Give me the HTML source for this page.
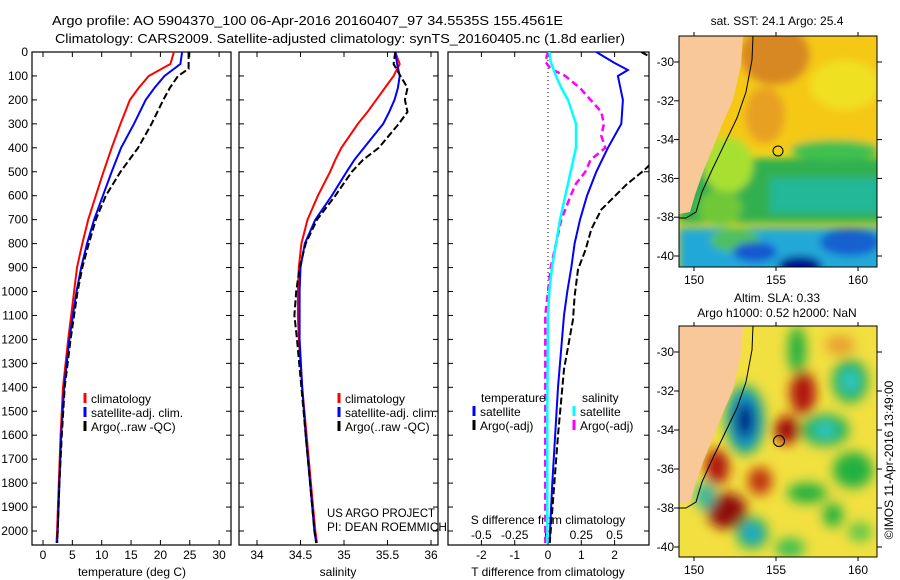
<!DOCTYPE html>
<html><head><meta charset="utf-8"><style>
html,body{margin:0;padding:0;background:#fff}
svg{display:block;font-family:"Liberation Sans",sans-serif}
</style></head><body>
<svg id="c" width="900" height="580" viewBox="0 0 900 580" xmlns="http://www.w3.org/2000/svg">
<defs>
<filter id="bl" x="-20%" y="-20%" width="140%" height="140%"><feGaussianBlur stdDeviation="6"/></filter>
<filter id="bl2" x="-20%" y="-20%" width="140%" height="140%"><feGaussianBlur stdDeviation="4"/></filter>
<clipPath id="cp1"><rect x="32" y="52" width="199" height="493"/></clipPath>
<clipPath id="cp2"><rect x="239" y="52" width="199" height="493"/></clipPath>
<clipPath id="cp3"><rect x="448" y="52" width="201" height="493"/></clipPath>
<clipPath id="cm1"><rect x="679" y="36" width="198" height="231"/></clipPath>
<clipPath id="cm2"><rect x="679" y="326" width="198" height="231"/></clipPath>
</defs>
<text x="52" y="25" font-size="13" textLength="511" lengthAdjust="spacingAndGlyphs">Argo profile: AO 5904370_100 06-Apr-2016 20160407_97 34.5535S 155.4561E</text>
<text x="55" y="43" font-size="13" textLength="570" lengthAdjust="spacingAndGlyphs">Climatology: CARS2009. Satellite-adjusted climatology: synTS_20160405.nc (1.8d earlier)</text>

<g id="g1"></g>
<g id="g2"></g>
<g id="g3"></g>

<text x="327" y="517" font-size="12" textLength="108" lengthAdjust="spacingAndGlyphs">US ARGO PROJECT</text>
<text x="327" y="531" font-size="12" textLength="120" lengthAdjust="spacingAndGlyphs">PI: DEAN ROEMMICH</text>

<!-- SST map -->
<g>
<text x="777" y="25" font-size="12" text-anchor="middle">sat. SST: 24.1  Argo: 25.4</text>
<g clip-path="url(#cm1)">
<rect x="679" y="36" width="198" height="231" fill="#f0d818"/>
<g filter="url(#bl2)">
<rect x="679" y="30" width="205" height="120" fill="#f5c818"/>
<ellipse cx="775" cy="55" rx="35" ry="30" fill="#d88820"/>
<ellipse cx="765" cy="115" rx="20" ry="28" fill="#e8a020"/>
<ellipse cx="845" cy="85" rx="35" ry="25" fill="#f0e020"/>
<rect x="679" y="158" width="205" height="65" fill="#30b050"/>
<ellipse cx="728" cy="165" rx="25" ry="28" fill="#a8e030"/>
<ellipse cx="835" cy="150" rx="45" ry="10" fill="#40c050"/>
<rect x="770" y="178" width="110" height="35" fill="#20b898"/>
<rect x="679" y="228" width="205" height="45" fill="#20a8d8"/>
<ellipse cx="720" cy="208" rx="22" ry="18" fill="#70c838"/>
<ellipse cx="735" cy="240" rx="25" ry="12" fill="#50c060"/>
<ellipse cx="850" cy="242" rx="30" ry="14" fill="#1860d0"/>
<ellipse cx="755" cy="252" rx="22" ry="10" fill="#1858d0"/>
<ellipse cx="800" cy="266" rx="22" ry="10" fill="#001890"/>
</g>
<polygon points="679,36 743,36 741,65 733,100 722,125 712,150 703,172 695,195 690,212 679,214" fill="#f8c898"/>
<polyline points="753,36 752,60 746,92 737,118 724,145 712,170 702,192 696,212 686,218 679,218" fill="none" stroke="#000" stroke-width="1"/>
</g>
<rect x="679" y="36" width="198" height="231" fill="none" stroke="#000" stroke-width="1"/>
<circle cx="778" cy="151" r="5" fill="none" stroke="#000" stroke-width="1"/>
</g>

<!-- SLA map -->
<g>
<text x="777" y="302" font-size="12" text-anchor="middle">Altim. SLA: 0.33</text>
<text x="777" y="317" font-size="12" text-anchor="middle">Argo h1000: 0.52 h2000: NaN</text>
<g clip-path="url(#cm2)">
<rect x="679" y="326" width="198" height="231" fill="#f2e040"/>
<g filter="url(#bl)">
<ellipse cx="797" cy="350" rx="9" ry="24" fill="#20b040"/>
<ellipse cx="745" cy="420" rx="20" ry="35" fill="#20b060"/>
<ellipse cx="745" cy="420" rx="15" ry="28" fill="#1890d0"/>
<ellipse cx="745" cy="420" rx="9" ry="18" fill="#001a80"/>
<ellipse cx="803" cy="393" rx="13" ry="22" fill="#b01810"/>
<ellipse cx="787" cy="430" rx="13" ry="14" fill="#a01010"/>
<ellipse cx="825" cy="430" rx="24" ry="16" fill="#20b050"/>
<ellipse cx="825" cy="430" rx="12" ry="8" fill="#30c8c8"/>
<ellipse cx="850" cy="381" rx="18" ry="22" fill="#20b050"/>
<ellipse cx="850" cy="381" rx="9" ry="12" fill="#30c8c8"/>
<ellipse cx="717" cy="467" rx="12" ry="18" fill="#b01810"/>
<ellipse cx="727" cy="511" rx="20" ry="18" fill="#900808"/>
<ellipse cx="760" cy="481" rx="12" ry="14" fill="#c03010"/>
<ellipse cx="752" cy="533" rx="16" ry="16" fill="#20b050"/>
<ellipse cx="752" cy="533" rx="9" ry="9" fill="#20a8d8"/>
<ellipse cx="705" cy="496" rx="10" ry="14" fill="#30b8a0"/>
<ellipse cx="807" cy="493" rx="20" ry="10" fill="#20b040"/>
<ellipse cx="853" cy="470" rx="20" ry="18" fill="#20b040"/>
<ellipse cx="833" cy="515" rx="10" ry="12" fill="#20b040"/>
<ellipse cx="790" cy="548" rx="15" ry="10" fill="#40c050"/>
<ellipse cx="860" cy="532" rx="12" ry="10" fill="#60c848"/>
<ellipse cx="840" cy="345" rx="15" ry="10" fill="#e8a030"/>
</g>
<polygon points="679,326 743,326 741,355 733,390 722,415 712,440 703,462 695,485 690,502 679,504" fill="#f8c898"/>
<polyline points="753,326 752,350 746,382 737,408 724,435 712,460 702,482 696,502 686,508 679,508" fill="none" stroke="#000" stroke-width="1"/>
</g>
<rect x="679" y="326" width="198" height="231" fill="none" stroke="#000" stroke-width="1"/>
<circle cx="779" cy="441" r="5.5" fill="none" stroke="#000" stroke-width="1"/>
</g>
<g id="maxes"></g>
<text x="893" y="460" font-size="12" text-anchor="middle" transform="rotate(-90 893 460)">©IMOS 11-Apr-2016 13:49:00</text>
</svg>
<script>
// ---- data ----
const depthT = [0,50,100,150,200,300,400,500,600,700,800,900,1000,1100,1200,1400,1600,1800,2000,2050];
const tempClim = [22.3,21.7,18,16.3,14.8,13.2,11.7,10.3,9,7.7,6.7,5.8,5.3,4.8,4.3,3.4,3.0,2.7,2.4,2.3];
const tempSat  = [23.7,23.4,20.7,19,17.5,15.5,13.3,11.7,10.2,8.7,7.5,6.5,5.7,5.1,4.5,3.6,3.1,2.8,2.5,2.4];
const depthA = [0,70,100,150,200,300,400,500,600,700,800,900,1000,1100,1200,1400,1600,1800,2000,2050];
const tempArgo = [24.8,24.8,23,21.6,20.5,18.5,16.2,13.2,10.7,9,7.8,6.7,5.9,5.3,4.7,3.7,3.2,2.8,2.5,2.4];
const depthS = [0,50,100,150,200,250,300,400,450,500,600,700,800,900,1000,1100,1200,1400,1600,1800,2000,2050];
const salClim = [35.59,35.64,35.57,35.47,35.37,35.27,35.16,34.97,34.9,34.84,34.70,34.58,34.51,34.48,34.47,34.47,34.48,34.52,34.57,34.62,34.67,34.69];
const salSat  = [35.59,35.61,35.64,35.62,35.58,35.52,35.45,35.23,35.12,35.03,34.86,34.67,34.55,34.50,34.49,34.49,34.49,34.52,34.56,34.61,34.66,34.68];
const salArgo = [35.59,35.57,35.65,35.73,35.7,35.73,35.63,35.4,35.22,35.09,34.9,34.69,34.56,34.49,34.45,34.43,34.46,34.51,34.56,34.61,34.66,34.68];
const depthD = [0,46,75,100,200,300,400,500,600,700,800,900,1000,1100,1400,1800,2000,2050];
const dTsat = [1.45,2.0,2.4,2.1,2.25,2.2,1.8,1.45,1.17,0.96,0.8,0.7,0.58,0.48,0.3,0.13,0.06,0.05];
const depthDA = [0,30,50,400,450,492,554,575,658,740,825,908,1020,1117,1325,1600,2000,2050];
const dTargo = [2.8,3.2,4.0,3.5,3.2,2.9,2.35,2.2,1.6,1.3,1.13,0.9,0.8,0.75,0.48,0.3,0.08,0.05];
const depthDS = [0,40,70,100,150,200,250,300,350,400,450,500,550,600,700,800,900,1000,1100,1500,2000,2050];
const dSsat = [0.01,0.02,0.04,0.06,0.1,0.15,0.18,0.21,0.21,0.21,0.19,0.17,0.15,0.13,0.09,0.06,0.03,0.01,0,-0.005,-0.005,-0.005];
const dSargo = [0,-0.02,0.02,0.13,0.24,0.32,0.4,0.42,0.4,0.43,0.32,0.28,0.21,0.17,0.1,0.06,0.02,0,-0.02,-0.02,-0.02,-0.02];
const depthTicks = [0,100,200,300,400,500,600,700,800,900,1000,1100,1200,1300,1400,1500,1600,1700,1800,1900,2000];
const tempTicks = [0,5,10,15,20,25,30];
const salTicks = [34,34.5,35,35.5,36];
const dTTicks = [-2,-1,0,1,2];
const dSTicks = [-0.5,-0.25,0,0.25,0.5];
const dSTickLabels = ["-0.5","-0.25","0","0.25","0.5"];
const latTicks = [-30,-32,-34,-36,-38,-40];
const lonTicks = [150,155,160];

// ---- axes ----
const yD = d => 52 + d*0.2395;
const xT = t => 43 + t*5.87;
const xS = s => 257 + (s-34)*87;
const xDT = t => 548 + t*33.3;
const xDS = s => 548 + s*133.2;
const NS = "http://www.w3.org/2000/svg";
function mk(tag, attrs, parent){const e=document.createElementNS(NS,tag);for(const k in attrs)e.setAttribute(k,attrs[k]);parent.appendChild(e);return e;}
function txt(parent,x,y,s,anchor,size){const e=mk('text',{x:x,y:y,'font-size':size||12,'text-anchor':anchor||'start'},parent);e.textContent=s;return e;}

function panel(g,x0,x1){
  const r=mk('rect',{x:x0,y:52,width:x1-x0,height:493,fill:'none',stroke:'#000','stroke-width':1.2},g);
  
  
  depthTicks.forEach(d=>{
    mk('line',{x1:x0,x2:x0+5,y1:yD(d),y2:yD(d),stroke:'#000'},g);
    mk('line',{x1:x1-5,x2:x1,y1:yD(d),y2:yD(d),stroke:'#000'},g);
  });
}
function xticks(g,vals,fx,labels,ly){
  vals.forEach((v,i)=>{
    const x=fx(v);
    mk('line',{x1:x,x2:x,y1:52,y2:57,stroke:'#000'},g);
    mk('line',{x1:x,x2:x,y1:540,y2:545,stroke:'#000'},g);
    const t=txt(g,x,ly,labels[i],'middle');
    
    
  });
}
function line(g,ds,vs,fx,color,w,dash,clip,name){
  const pts=ds.map((d,i)=>fx(vs[i]).toFixed(1)+','+yD(d).toFixed(1)).join(' ');
  const a={points:pts,fill:'none',stroke:color,'stroke-width':w,'clip-path':'url(#'+clip+')'};
  if(dash)a['stroke-dasharray']=dash;
  const p=mk('polyline',a,g);
  
  
}
function legItem(g,x,y,color,label){
  mk('line',{x1:x,x2:x,y1:y-10,y2:y,stroke:color,'stroke-width':3},g);
  const t=txt(g,x+6,y,label,'start');
  
  
}

// panel 1
const g1=document.getElementById('g1');
panel(g1,32,231);
depthTicks.forEach(d=>{const t=txt(g1,28,yD(d)+4,String(d),'end');
 
 });
xticks(g1,tempTicks,xT,tempTicks.map(String),559);
let t1=txt(g1,132,576,'temperature (deg C)','middle');


line(g1,depthT,tempClim,xT,'#f00',2,null,'cp1','temp-climatology-line');
line(g1,depthT,tempSat,xT,'#00f',2,null,'cp1','temp-satellite-line');
line(g1,depthA,tempArgo,xT,'#000',2,'7,3','cp1','temp-argo-line');
legItem(g1,85,403,'#f00','climatology');
legItem(g1,85,417,'#00f','satellite-adj. clim.');
legItem(g1,85,431,'#000','Argo(..raw -QC)');

// panel 2
const g2=document.getElementById('g2');
panel(g2,239,438);
xticks(g2,salTicks,xS,salTicks.map(String),559);
let t2=txt(g2,338,576,'salinity','middle');


line(g2,depthS,salClim,xS,'#f00',2,null,'cp2','sal-climatology-line');
line(g2,depthS,salSat,xS,'#00f',2,null,'cp2','sal-satellite-line');
line(g2,depthS,salArgo,xS,'#000',2,'7,3','cp2','sal-argo-line');
legItem(g2,339,403,'#f00','climatology');
legItem(g2,339,417,'#00f','satellite-adj. clim.');
legItem(g2,339,431,'#000','Argo(..raw -QC)');

// panel 3
const g3=document.getElementById('g3');
panel(g3,448,649);
xticks(g3,dTTicks,xDT,dTTicks.map(String),559);
dSTicks.forEach((v,i)=>{const t=txt(g3,xDS(v),539,dSTickLabels[i],'middle');
 
 });
let t3=txt(g3,548,576,'T difference from climatology','middle');


let t4=txt(g3,548,524,'S difference from climatology','middle');


mk('line',{x1:548,x2:548,y1:52,y2:545,stroke:'#000','stroke-dasharray':'1,3'},g3);
line(g3,depthDS,dSargo,xDS,'#f0f',2.5,'7,4','cp3','dsal-argo-line');
line(g3,depthDS,dSsat,xDS,'#0ff',2.5,null,'cp3','dsal-satellite-line');
line(g3,depthD,dTsat,xDT,'#00f',2,null,'cp3','dtemp-satellite-line');
line(g3,depthDA,dTargo,xDT,'#000',2,'7,3','cp3','dtemp-argo-line');
let t5=txt(g3,481,402,'temperature','start');


let t6=txt(g3,582,402,'salinity','start');


legItem(g3,474,416,'#00f','satellite');
legItem(g3,474,430,'#000','Argo(-adj)');
legItem(g3,574,416,'#0ff','satellite');
legItem(g3,574,430,'#f0f','Argo(-adj)');

// map axes
const ma=document.getElementById('maxes');
[[62,256,280,36,267],[352,547,570,326,557]].forEach(m=>{
  const [ytop,ybot,ly,my0,my1]=m;
  latTicks.forEach(l=>{
    const y=ytop+( -30 - l)/10*(ybot-ytop);
    mk('line',{x1:674,x2:679,y1:y,y2:y,stroke:'#000'},ma);
    mk('line',{x1:877,x2:882,y1:y,y2:y,stroke:'#000'},ma);
    const t=txt(ma,674,y+4,String(l),'end');
    
    
  });
  lonTicks.forEach(l=>{
    const x=694+(l-150)*16.4;
    mk('line',{x1:x,x2:x,y1:my0-4,y2:my0,stroke:'#000'},ma);
    mk('line',{x1:x,x2:x,y1:my1,y2:my1+4,stroke:'#000'},ma);
    const t=txt(ma,x,ly+4,String(l),'middle');
    
    
  });
});
</script>
</body></html>
